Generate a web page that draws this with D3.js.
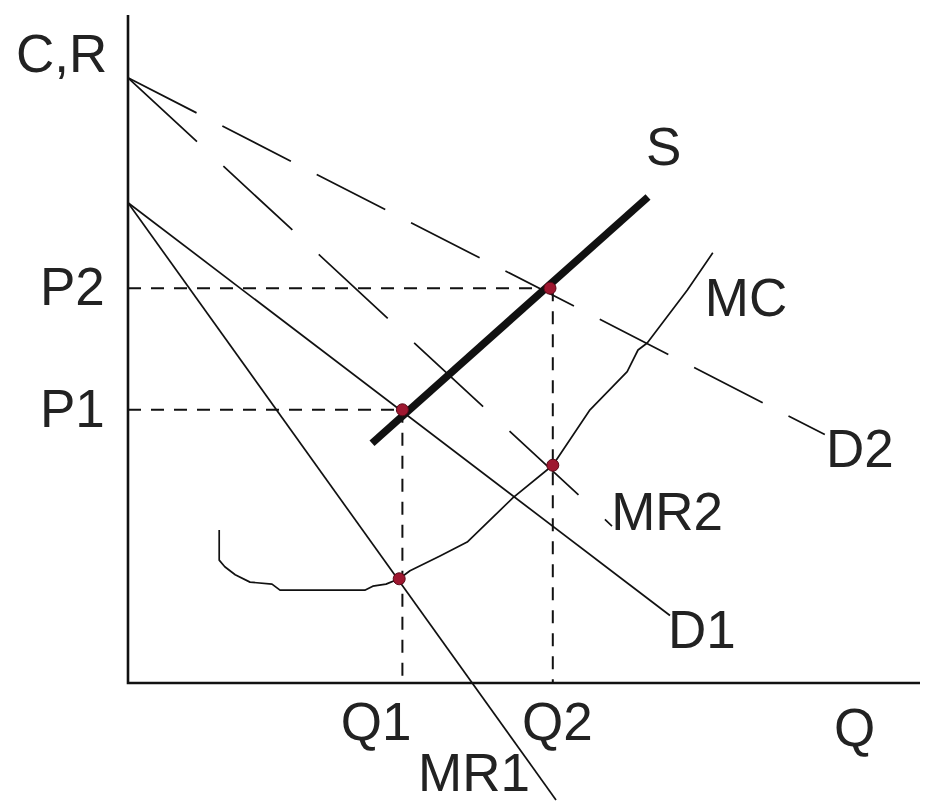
<!DOCTYPE html>
<html>
<head>
<meta charset="utf-8">
<script src="https://cdn.jsdelivr.net/npm/d3@7"></script>
<style>
  html, body { margin: 0; padding: 0; background: #fff; }
  text { font-family: "Liberation Sans", Arial, sans-serif; font-size: 53px; fill: #222; }
</style>
</head>
<body>
<script>
// values, in chart units (x: 0..99, y: 0..100)
var demand2 = [[0, 90.6], [87.1, 37.2]];
var mr2 = [[0, 90.6], [60.5, 23.5]];
var demand1 = [[0, 71.9], [67.75, 10.1]];
var mr1 = [[0, 71.9], [53.5, -17.5]];
var supply = [[30.5, 35.9], [65, 72.75]];
var mc = [[11.4, 22.9], [11.4, 18.4], [12.1, 17.4], [13.4, 16.2], [15.25, 15.1], [18, 14.8],
          [19, 13.9], [29.6, 13.9], [30.6, 14.5], [32.25, 14.8], [33.9, 15.6], [35.25, 16.8],
          [39, 19], [42.4, 21.1], [48.1, 27.7], [53.1, 32.6], [57.75, 40.9], [62.4, 46.6],
          [63.75, 49.85], [64.9, 50.9], [69.9, 58.8], [73.1, 64.4]];
var prices = [40.9, 59.1];       // P1, P2
var quantities = [34.3, 53.1];   // Q1, Q2
var dots = [[34.3, 40.9], [52.75, 59.1], [53.1, 32.6], [33.9, 15.6]];
var labels = [
  ["C,R", -14, 91.5], ["P2", -11, 56.6], ["P1", -11, 38.3], ["S", 64.75, 77.5],
  ["MC", 72.1, 55], ["D2", 87.25, 32.3], ["MR2", 60.4, 22.9], ["D1", 67.5, 5.24],
  ["Q1", 26.6, -8.5], ["Q2", 49.25, -8.5], ["Q", 88.25, -9.4], ["MR1", 36.25, -16.2]
];

var width = 927, height = 807;
var svg = d3.select("body").append("svg")
    .attr("width", width).attr("height", height);

var x = d3.scaleLinear().domain([0, 99]).range([128, 920]),
    y = d3.scaleLinear().domain([0, 100]).range([683, 15]);

var line = d3.line()
    .x(function(d){ return x(d[0]); })
    .y(function(d){ return y(d[1]); });

// guide lines to the axes
var guides = svg.append("g").attr("class", "guides")
    .attr("stroke", "#111").attr("stroke-width", 2).attr("stroke-dasharray", "13,10").attr("fill", "none");
prices.forEach(function(p, i){
  guides.append("path").attr("d", line([[0, p], [dots[i][0], p]]));
});
quantities.forEach(function(q, i){
  guides.append("path").attr("d", line([[q, prices[i]], [q, 0]]));
});

// curves
function curve(data, w, dash){
  var p = svg.append("path").attr("d", line(data))
      .attr("fill", "none").attr("stroke", "#111").attr("stroke-width", w);
  if (dash) p.attr("stroke-dasharray", dash);
  return p;
}
curve(demand2, 1.7, "77,29");
curve(mr2, 1.7, "94,36");
curve(demand1, 1.7);
curve(mr1, 1.7);
curve(mc, 1.7).attr("stroke-linejoin", "round");
curve(supply, 7.5);

// axes
svg.append("path").attr("d", line([[0, 100], [0, 0], [99, 0]]))
   .attr("fill", "none").attr("stroke", "#111").attr("stroke-width", 2.6);

svg.append("g").selectAll("circle").data(dots).enter().append("circle")
   .attr("cx", function(d){ return x(d[0]); })
   .attr("cy", function(d){ return y(d[1]); })
   .attr("r", 6)
   .attr("fill", "#9e1730").attr("stroke", "#5a0a18").attr("stroke-width", 1);

svg.append("g").selectAll("text").data(labels).enter().append("text")
   .attr("x", function(d){ return x(d[1]); })
   .attr("y", function(d){ return y(d[2]); })
   .text(function(d){ return d[0]; });
</script>
</body>
</html>
